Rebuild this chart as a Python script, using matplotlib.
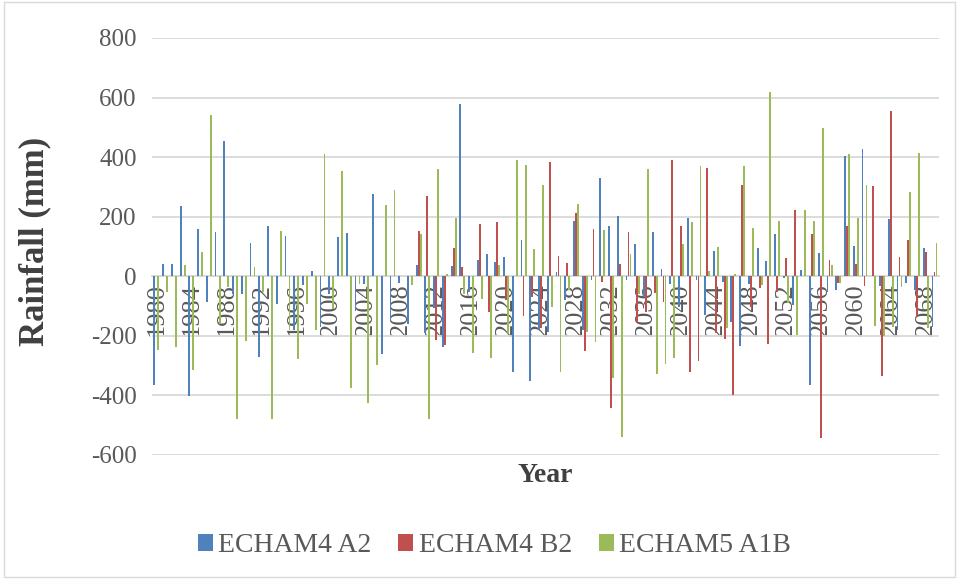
import numpy as np
import matplotlib
matplotlib.use("Agg")
from matplotlib import pyplot as plt, patches

years = list(range(1980, 2070))

echam4_a2 = [-365, 40, 42, 235, -401, 160, -87, 150, 453, -58,
             -58, 113, -270, 168, -94, 134, -180, -30, 17, -170,
             -60, 132, 146, -116, -25, 277, -261, -153, -22, -160,
             37, -190, -105, -239, 34, 579, -52, 54, 74, 49,
             64, -320, 123, -351, -181, -187, 15, -80, 185, -180,
             -11, 330, 168, 203, -13, 109, -69, 150, 23, -27,
             -103, 194, -13, -131, 86, -19, -153, -235, -25, 95,
             50, 143, -5, -95, 22, -365, 79, -52, -45, 404,
             103, 428, 0, -34, 192, -179, -22, -45, 96, -170]

echam4_b2 = [0] * 30 + [
             151, 269, -215, -231, 94, 31, 0, 175, -120, 182,
             -80, 0, -134, -69, -175, 382, 67, 46, 214, -250,
             160, -19, -443, 42, 149, -156, -120, -56, -86, 391,
             169, -321, -284, 362, -192, -209, -399, 308, -103, -41,
             -226, -52, 63, 223, 0, 141, -542, 56, -22, 168,
             40, -32, 302, -336, 556, 65, 123, -136, 80, 13]

echam5_a1b = [-246, -52, -239, 39, -315, 80, 540, -160, -36, -479,
              -217, 32, -53, -479, 153, -180, -279, -92, -181, 409,
              -110, 355, -374, -25, -424, -298, 240, 288, 0, -30,
              141, -480, 361, 9, 197, -58, -259, -75, -276, 39,
              -192, 391, 372, 93, 307, -103, -321, -47, 244, -187,
              -220, 156, -340, -538, 74, -61, 359, -328, -293, -276,
              109, 181, 369, 18, 98, -175, 9, 369, 163, -30,
              620, 184, -89, -198, 223, 184, 498, 37, -22, 411,
              195, 308, -168, -201, -170, -36, 284, 414, -175, 111]

series = [("ECHAM4 A2", echam4_a2, "#4F81BD"),
          ("ECHAM4 B2", echam4_b2, "#C0504D"),
          ("ECHAM5 A1B", echam5_a1b, "#9BBB59")]

plt.rcParams['font.family'] = ['Liberation Serif', 'DejaVu Serif']
plt.rcParams['axes.unicode_minus'] = False

fig = plt.figure(figsize=(9.59, 5.79), dpi=100)
ax = fig.add_axes([0.1585, 0.2142, 0.8205, 0.7202])

x = np.arange(len(years))
w = 0.21
for k, (name, vals, col) in enumerate(series):
    ax.bar(x + (k - 1) * 0.23, vals, width=w, color=col, label=name,
           linewidth=0, antialiased=False, zorder=3)

ax.set_xlim(-0.5, len(years) - 0.5)
ax.set_ylim(-600, 800)
ax.set_yticks(range(-600, 801, 200))
ax.yaxis.grid(True, color='#d9d9d9', linewidth=1.3, zorder=0)
for s in ['top', 'right', 'left']:
    ax.spines[s].set_visible(False)
ax.spines['bottom'].set_position(('data', 0))
ax.spines['bottom'].set_color('#d9d9d9')
ax.spines['bottom'].set_linewidth(1.3)

ax.set_xticks(x[::4])
ax.set_xticklabels([str(y) for y in years[::4]], rotation=90, va='top')
ax.tick_params(axis='x', length=0, pad=5, labelsize=19, labelcolor='#595959')
ax.tick_params(axis='y', length=0, pad=11, labelsize=18, labelcolor='#595959')

ax.set_ylabel('Rainfall (mm)', fontsize=25, fontweight='bold', color='#404040')
ax.yaxis.set_label_coords(-0.128, 0.513)
fig.text(0.569, 0.178, 'Year', fontsize=20, fontweight='bold', color='#404040',
         ha='center', va='center')

leg = fig.legend(loc='center', bbox_to_anchor=(0.5156, 0.057), ncol=3, frameon=False,
                 fontsize=20, handlelength=0.55, handleheight=0.55, handletextpad=0.2,
                 columnspacing=0.95)
for t in leg.get_texts():
    t.set_color('#595959')

fig.patches.append(patches.Rectangle((0.004, 0.004), 0.992, 0.992, transform=fig.transFigure,
                                     fill=False, edgecolor='#d9d9d9', linewidth=1))

fig.savefig('out.png', dpi=100)
